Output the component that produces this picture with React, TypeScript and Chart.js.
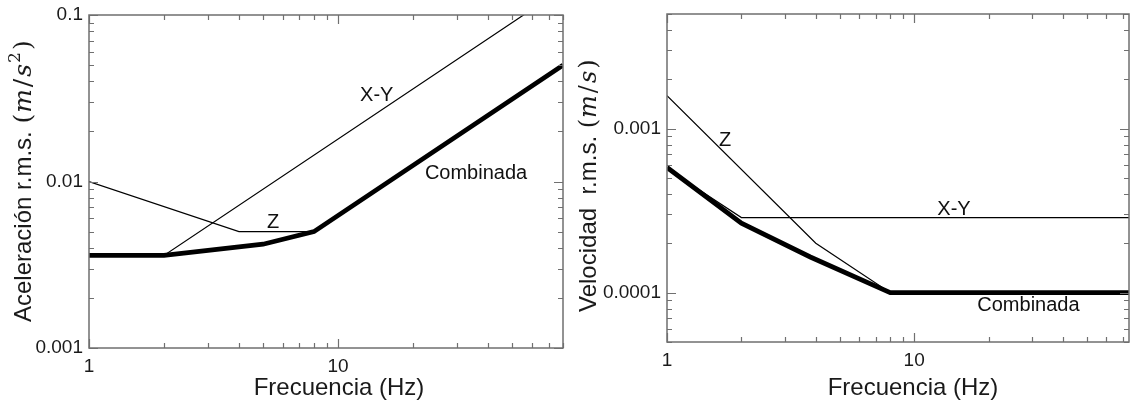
import React, { useEffect, useRef } from 'react';
import { Chart, registerables } from 'chart.js';
Chart.register(...registerables);

// ---------- Data: acceleration (left) ----------
const accXYFreq = [1, 2, 80];
const accXYVal = [0.0036, 0.0036, 0.144];
const accZFreq = [1, 4, 8, 80];
const accZVal = [0.01, 0.005, 0.005, 0.05];
const accCombFreq = [1, 2, 5, 8, 80];
const accCombVal = [0.0036, 0.0036, 0.0042, 0.005, 0.05];

// ---------- Data: velocity (right) ----------
const velXYFreq = [1, 2, 80];
const velXYVal = [0.00057, 0.000287, 0.000287];
const velZFreq = [1, 4, 8, 80];
const velZVal = [0.00159, 0.0002, 0.0001, 0.0001];
const velCombFreq = [1, 2, 3.8, 8, 80];
const velCombVal = [0.00058, 0.000265, 0.000165, 0.0001, 0.0001];

// ---------- Tick labels ----------
const xTickLabels = ['1', '10'];
const accTickLabels = ['0.001', '0.01', '0.1'];
const velTickLabels = ['0.0001', '0.001'];

// ---------- Curve labels ----------
const accNoteText = ['X-Y', 'Z', 'Combinada'];
const accNoteFreq = [14.3, 5.48, 35.8];
const accNoteVal = [0.0327, 0.00571, 0.0111];
const velNoteText = ['Z', 'X-Y', 'Combinada'];
const velNoteFreq = [1.72, 14.5, 29];
const velNoteVal = [0.000846, 0.000323, 0.0000834];

const SANS = '"Liberation Sans", Arial, sans-serif';
const SERIF = '"DejaVu Serif", serif';

function labelFor(v: number, labels: string[]) {
  for (const l of labels) {
    const n = Number(l);
    if (Math.abs(Math.log10(v) - Math.log10(n)) < 1e-6) return l;
  }
  return '';
}

function pts(f: number[], v: number[]) {
  return f.map((x, i) => ({ x, y: v[i] }));
}

function logTickValues(min: number, max: number) {
  const out: { v: number; major: boolean }[] = [];
  const e0 = Math.floor(Math.log10(min));
  const e1 = Math.ceil(Math.log10(max));
  for (let e = e0; e <= e1; e++) {
    for (let m = 1; m <= 9; m++) {
      const v = m * Math.pow(10, e);
      if (v >= min * 0.9999 && v <= max * 1.0001) out.push({ v, major: m === 1 });
    }
  }
  return out;
}

type Part = { text: string; font: string; pre?: number; dy?: number };

const decorPlugin = {
  id: 'decor',
  afterDraw(chart: any) {
    const o = chart.options.plugins.decor;
    if (!o) return;
    const { ctx, chartArea: a } = chart;
    const xs = chart.scales.x;
    const ys = chart.scales.y;
    ctx.save();
    // ticks (inward, all four sides)
    ctx.strokeStyle = '#707070';
    ctx.lineWidth = 1.2;
    ctx.beginPath();
    for (const t of logTickValues(xs.min, xs.max)) {
      const px = Math.round(xs.getPixelForValue(t.v)) + 0.5;
      const len = t.major ? 9 : 5;
      ctx.moveTo(px, a.bottom);
      ctx.lineTo(px, a.bottom - len);
      ctx.moveTo(px, a.top);
      ctx.lineTo(px, a.top + len);
    }
    for (const t of logTickValues(ys.min, ys.max)) {
      const py = Math.round(ys.getPixelForValue(t.v)) + 0.5;
      const len = t.major ? 9 : 5;
      ctx.moveTo(a.left, py);
      ctx.lineTo(a.left + len, py);
      ctx.moveTo(a.right, py);
      ctx.lineTo(a.right - len, py);
    }
    ctx.stroke();
    // frame
    ctx.strokeStyle = '#6f6f6f';
    ctx.lineWidth = 1.5;
    ctx.strokeRect(a.left, a.top, a.right - a.left, a.bottom - a.top);

    // curve labels
    ctx.fillStyle = '#111';
    ctx.font = `20px ${SANS}`;
    ctx.textAlign = 'center';
    ctx.textBaseline = 'middle';
    o.notes.text.forEach((t: string, i: number) => {
      ctx.fillText(t, xs.getPixelForValue(o.notes.freq[i]), ys.getPixelForValue(o.notes.val[i]));
    });

    // x title
    ctx.font = `24px ${SANS}`;
    ctx.fillStyle = '#1a1a1a';
    ctx.fillText(o.xTitle, o.xTitleX, o.xTitleY);

    // y title (rotated, mixed fonts)
    ctx.save();
    ctx.translate(o.yTitleX, o.yTitleStart);
    ctx.rotate(-Math.PI / 2);
    ctx.textAlign = 'left';
    ctx.textBaseline = 'alphabetic';
    let x = 0;
    for (const p of o.yTitle as Part[]) {
      ctx.font = p.font;
      x += p.pre || 0;
      ctx.fillText(p.text, x, 8 + (p.dy || 0));
      x += ctx.measureText(p.text).width;
    }
    ctx.restore();
    ctx.restore();
  },
};

type Spec = {
  xMax: number;
  yMin: number;
  yMax: number;
  yLabels: string[];
  series: { f: number[]; v: number[]; w: number }[];
  notes: { text: string[]; freq: number[]; val: number[] };
  yWidth: number;
  xHeight: number;
  padTop: number;
  padRight: number;
  xTitle: string;
  xTitleX: number;
  xTitleY: number;
  yTitleX: number;
  yTitleStart: number;
  yTitle: Part[];
};

function mathParts(prefix: string, sup: boolean, size: number): Part[] {
  const parts: Part[] = [
    { text: prefix, font: `24px ${SANS}` },
    { text: '(', font: `${size}px ${SERIF}`, pre: 1 },
    { text: 'm', font: `italic ${size}px ${SERIF}`, pre: 1 },
    { text: '/', font: `${size}px ${SERIF}`, pre: 2 },
    { text: 's', font: `italic ${size}px ${SERIF}`, pre: 2 },
  ];
  if (sup) parts.push({ text: '2', font: `17px ${SERIF}`, pre: 1, dy: -11 });
  parts.push({ text: ')', font: `${size}px ${SERIF}`, pre: 2 });
  return parts;
}

const leftSpec: Spec = {
  xMax: 80,
  yMin: 0.001,
  yMax: 0.1,
  yLabels: accTickLabels,
  series: [
    { f: accCombFreq, v: accCombVal, w: 4.8 },
    { f: accXYFreq, v: accXYVal, w: 1.2 },
    { f: accZFreq, v: accZVal, w: 1.2 },
  ],
  notes: { text: accNoteText, freq: accNoteFreq, val: accNoteVal },
  yWidth: 89,
  xHeight: 57,
  padTop: 15,
  padRight: 2,
  xTitle: 'Frecuencia (Hz)',
  xTitleX: 339,
  xTitleY: 388,
  yTitleX: 23,
  yTitleStart: 322,
  yTitle: mathParts('Aceleración r.m.s. ', true, 25),
};

const rightSpec: Spec = {
  xMax: 74,
  yMin: 0.00005,
  yMax: 0.005,
  yLabels: velTickLabels,
  series: [
    { f: velCombFreq, v: velCombVal, w: 4.8 },
    { f: velXYFreq, v: velXYVal, w: 1.2 },
    { f: velZFreq, v: velZVal, w: 1.2 },
  ],
  notes: { text: velNoteText, freq: velNoteFreq, val: velNoteVal },
  yWidth: 102,
  xHeight: 63,
  padTop: 14,
  padRight: 1,
  xTitle: 'Frecuencia (Hz)',
  xTitleX: 348,
  xTitleY: 388,
  yTitleX: 23,
  yTitleStart: 312,
  yTitle: mathParts('Velocidad  r.m.s. ', false, 24),
};

function LogChart({ spec }: { spec: Spec }) {
  const ref = useRef<HTMLCanvasElement | null>(null);
  useEffect(() => {
    if (!ref.current) return;
    const chart = new Chart(ref.current, {
      type: 'line',
      data: {
        datasets: spec.series.map((s) => ({
          data: pts(s.f, s.v),
          borderColor: '#000',
          borderWidth: s.w,
          pointRadius: 0,
          tension: 0,
          fill: false,
          borderJoinStyle: 'miter' as const,
        })),
      },
      options: {
        animation: false,
        responsive: false,
        maintainAspectRatio: false,
        layout: { padding: { top: spec.padTop, right: spec.padRight, left: 0, bottom: 0 } },
        plugins: {
          legend: { display: false },
          tooltip: { enabled: false },
          decor: {
            notes: spec.notes,
            xTitle: spec.xTitle,
            xTitleX: spec.xTitleX,
            xTitleY: spec.xTitleY,
            yTitleX: spec.yTitleX,
            yTitleStart: spec.yTitleStart,
            yTitle: spec.yTitle,
          },
        } as any,
        scales: {
          x: {
            type: 'logarithmic',
            min: 1,
            max: spec.xMax,
            grid: { display: false, drawTicks: false },
            border: { display: false },
            ticks: {
              autoSkip: false,
              maxRotation: 0,
              minRotation: 0,
              padding: 7,
              color: '#1a1a1a',
              font: { family: SANS, size: 19 },
              callback: (v: any) => labelFor(Number(v), xTickLabels),
            },
            afterFit: (s: any) => {
              s.height = spec.xHeight;
              s.paddingLeft = 0;
              s.paddingRight = 0;
            },
          },
          y: {
            type: 'logarithmic',
            min: spec.yMin,
            max: spec.yMax,
            grid: { display: false, drawTicks: false },
            border: { display: false },
            ticks: {
              autoSkip: false,
              padding: 6,
              color: '#1a1a1a',
              font: { family: SANS, size: 19 },
              callback: (v: any) => labelFor(Number(v), spec.yLabels),
            },
            afterFit: (s: any) => {
              s.width = spec.yWidth;
              s.paddingTop = 0;
              s.paddingBottom = 0;
            },
          },
        },
      },
      plugins: [decorPlugin],
    });
    return () => chart.destroy();
  }, [spec]);
  return <canvas ref={ref} width={565} height={405} style={{ display: 'block', width: 565, height: 405 }} />;
}

export default function App() {
  return (
    <div
      style={{
        position: 'fixed',
        left: 0,
        top: 0,
        width: 1130,
        height: 405,
        display: 'flex',
        background: '#fff',
        overflow: 'hidden',
      }}
    >
      <LogChart spec={leftSpec} />
      <LogChart spec={rightSpec} />
    </div>
  );
}
